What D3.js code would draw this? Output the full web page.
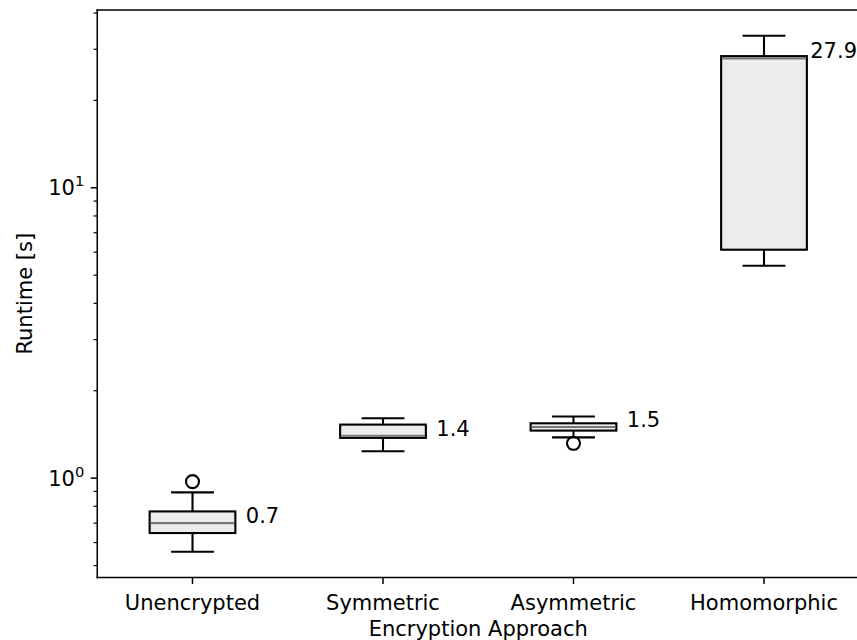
<!DOCTYPE html>
<html>
<head>
<meta charset="utf-8">
<script src="https://cdn.jsdelivr.net/npm/d3@7"></script>
<style>
  html, body { margin: 0; padding: 0; background: #fff; overflow: hidden; }
  svg { display: block; font-family: "DejaVu Sans", sans-serif; overflow: hidden; }
</style>
</head>
<body>
<svg id="chart" width="857" height="640"></svg>
<script>
// Runtime distribution per encryption approach (seconds, log scale)
const categories  = ["Unencrypted", "Symmetric", "Asymmetric", "Homomorphic"];
const whiskerLow  = [0.558, 1.237, 1.382, 5.39];
const q1          = [0.647, 1.376, 1.458, 6.12];
const medians     = [0.7, 1.4, 1.5, 27.9];
const q3          = [0.768, 1.529, 1.545, 28.41];
const whiskerHigh = [0.893, 1.608, 1.630, 33.38];
const outliers    = [[0.973], [], [1.318], []];
const yMajorTicks = [1, 10];
const xAxisTitle  = "Encryption Approach";
const yAxisTitle  = "Runtime [s]";

const W = 857, H = 640;
const plotL = 97.25, plotR = 859.25;
const plotT = 10, plotB = 577.5;
const FS = 21;

const svg = d3.select("#chart");

// positions 1..n with half-unit padding on each side
const positions = categories.map((_, i) => i + 1);
const x = d3.scaleLinear().domain([0.5, categories.length + 0.5]).range([plotL, plotR]);
const unit = x(2) - x(1);

// log y-domain with 5% padding (in log space) around all values
const allVals = whiskerLow.concat(whiskerHigh, outliers.flat());
const lo = Math.log10(d3.min(allVals)), hi = Math.log10(d3.max(allVals));
const pad = (hi - lo) * 0.05;
const y = d3.scaleLog().domain([10 ** (lo - pad), 10 ** (hi + pad)]).range([plotB, plotT]);

const boxW = 0.45, capW = boxW / 2;
const lw = 2.1;

const data = categories.map((c, i) => ({
  name: c, pos: positions[i], lo: whiskerLow[i], q1: q1[i], med: medians[i],
  q3: q3[i], hi: whiskerHigh[i], out: outliers[i]
}));

const g = svg.append("g");
const boxes = g.selectAll("g.box").data(data).join("g").attr("class", "box");

// whiskers
boxes.append("line")
  .attr("x1", d => x(d.pos)).attr("x2", d => x(d.pos))
  .attr("y1", d => y(d.lo)).attr("y2", d => y(d.q1))
  .attr("stroke", "#000").attr("stroke-width", lw);
boxes.append("line")
  .attr("x1", d => x(d.pos)).attr("x2", d => x(d.pos))
  .attr("y1", d => y(d.q3)).attr("y2", d => y(d.hi))
  .attr("stroke", "#000").attr("stroke-width", lw);
// caps
["lo", "hi"].forEach(k => {
  boxes.append("line")
    .attr("x1", d => x(d.pos - capW / 2)).attr("x2", d => x(d.pos + capW / 2))
    .attr("y1", d => y(d[k])).attr("y2", d => y(d[k]))
    .attr("stroke", "#000").attr("stroke-width", lw);
});
// box
boxes.append("rect")
  .attr("x", d => x(d.pos - boxW / 2))
  .attr("width", unit * boxW)
  .attr("y", d => y(d.q3))
  .attr("height", d => y(d.q1) - y(d.q3))
  .attr("fill", "#ececec").attr("stroke", "#000").attr("stroke-width", lw);
// median
boxes.append("line")
  .attr("x1", d => x(d.pos - boxW / 2) + lw / 2).attr("x2", d => x(d.pos + boxW / 2) - lw / 2)
  .attr("y1", d => y(d.med)).attr("y2", d => y(d.med))
  .attr("stroke", "#777").attr("stroke-width", lw);
// fliers
boxes.selectAll("circle").data(d => d.out.map(v => ({ pos: d.pos, v }))).join("circle")
  .attr("cx", d => x(d.pos)).attr("cy", d => y(d.v)).attr("r", 6.5)
  .attr("fill", "none").attr("stroke", "#000").attr("stroke-width", lw);

// median labels, kept inside the figure
boxes.append("text")
  .attr("x", d => x(d.pos + 0.28)).attr("y", d => y(d.med))
  .attr("font-size", FS).attr("fill", "#000")
  .text(d => d3.format(".1f")(d.med))
  .each(function () {
    const b = this.getBBox();
    if (b.x + b.width > W) d3.select(this).attr("x", W - b.width);
  });

// axes
const ax = svg.append("g");
// spines: left, top, bottom (right edge falls outside the figure)
const spine = (x1, y1, x2, y2) => ax.append("line")
  .attr("x1", x1).attr("y1", y1).attr("x2", x2).attr("y2", y2)
  .attr("stroke", "#000").attr("stroke-width", 1.5).attr("stroke-linecap", "square");
spine(plotL, plotT, plotL, plotB);
spine(plotL, plotT, W, plotT);
spine(plotL, plotB, W, plotB);

// x ticks
const xt = ax.selectAll("g.xt").data(categories).join("g").attr("class", "xt")
  .attr("transform", (d, i) => `translate(${x(positions[i])},${plotB})`);
xt.append("line").attr("y1", 0).attr("y2", 6.5).attr("stroke", "#000").attr("stroke-width", 1.5);
xt.append("text").attr("y", 32).attr("text-anchor", "middle").attr("font-size", FS).text(d => d);

// y major ticks
const yt = ax.selectAll("g.yt").data(yMajorTicks).join("g").attr("class", "yt")
  .attr("transform", d => `translate(${plotL},${y(d)})`);
yt.append("line").attr("x1", 0).attr("x2", -6.5).attr("stroke", "#000").attr("stroke-width", 1.5);
const ytText = yt.append("text").attr("x", -13).attr("y", 7.5).attr("text-anchor", "end").attr("font-size", FS);
ytText.append("tspan").text("10");
ytText.append("tspan").attr("dy", -9).attr("font-size", FS * 0.7).text(d => Math.round(Math.log10(d)));

// y minor ticks
const [d0, d1] = y.domain();
const minor = [];
for (let e = Math.floor(Math.log10(d0)); e <= Math.ceil(Math.log10(d1)); e++) {
  for (let m = 2; m <= 9; m++) {
    const v = m * 10 ** e;
    if (v >= d0 && v <= d1) minor.push(v);
  }
}
ax.selectAll("line.minor").data(minor).join("line").attr("class", "minor")
  .attr("x1", plotL).attr("x2", plotL - 3.7)
  .attr("y1", d => y(d)).attr("y2", d => y(d))
  .attr("stroke", "#000").attr("stroke-width", 1.2);

// axis titles
ax.append("text").attr("x", (plotL + plotR) / 2).attr("y", 636)
  .attr("text-anchor", "middle").attr("font-size", FS).text(xAxisTitle);
ax.append("text")
  .attr("transform", `translate(32,${(plotT + plotB) / 2}) rotate(-90)`)
  .attr("text-anchor", "middle").attr("font-size", FS).text(yAxisTitle);
</script>
</body>
</html>
